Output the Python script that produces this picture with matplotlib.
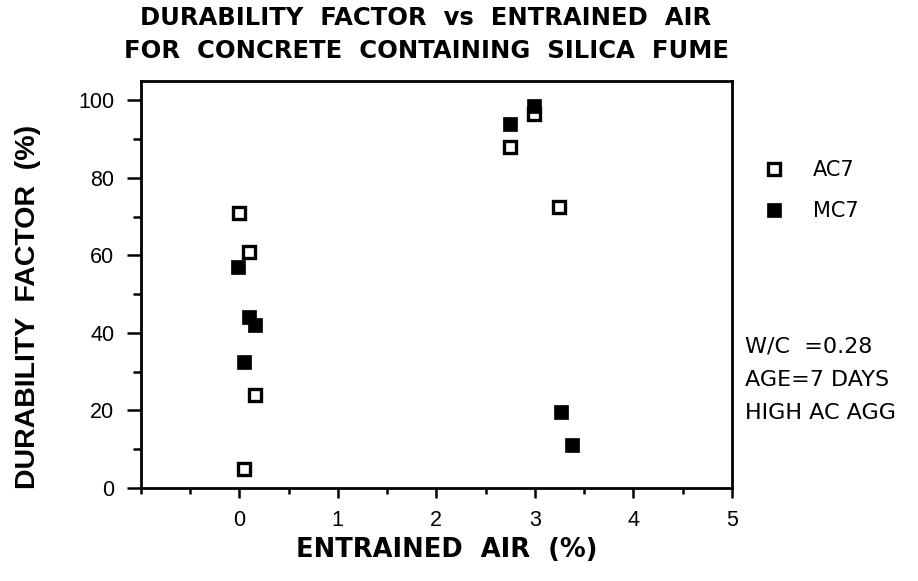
import matplotlib
matplotlib.use("Agg")
import matplotlib.pyplot as plt
from matplotlib.ticker import FixedLocator

plt.rcParams['font.family'] = ['Liberation Sans', 'DejaVu Sans']

# Data
ac7_air = [0.00, 0.10, 0.16, 0.05, 2.75, 2.99, 3.24]
ac7_df = [71, 61, 24, 5, 88, 96.5, 72.5]
mc7_air = [-0.01, 0.10, 0.16, 0.05, 2.75, 2.99, 3.26, 3.38]
mc7_df = [57, 44, 42, 32.5, 94, 98.5, 19.5, 11]

x_ticks = [0, 1, 2, 3, 4, 5]
y_ticks = [0, 20, 40, 60, 80, 100]

W, H = 918, 581
fig = plt.figure(figsize=(W / 100, H / 100), dpi=100)
ax = fig.add_axes([140.7 / W, 1 - 488 / H, (732 - 140.7) / W, (488 - 81) / H])

ax.plot(ac7_air, ac7_df, linestyle='none', marker='s', markersize=8,
        markerfacecolor='white', markeredgecolor='black', markeredgewidth=2.4,
        label='AC7', zorder=3)
ax.plot(mc7_air, mc7_df, linestyle='none', marker='s', markersize=9.8,
        markerfacecolor='black', markeredgecolor='black', markeredgewidth=0.5,
        label='MC7', zorder=4)

ax.set_xlim(-1, 5)
ax.set_ylim(0, 105)
ax.xaxis.set_major_locator(FixedLocator(x_ticks))
ax.xaxis.set_minor_locator(FixedLocator([-1, -0.5, 0.5, 1.5, 2.5, 3.5, 4.5]))
ax.yaxis.set_major_locator(FixedLocator(y_ticks))
ax.yaxis.set_minor_locator(FixedLocator([10, 30, 50, 70, 90]))
ax.set_xticklabels([str(v) for v in x_ticks])
ax.set_yticklabels([str(v) for v in y_ticks])

for s in ax.spines.values():
    s.set_linewidth(2.0)
ax.tick_params(axis='both', which='both', direction='out', width=1.8, labelsize=15.5)
ax.tick_params(axis='x', which='major', length=7, pad=9)
ax.tick_params(axis='x', which='minor', length=4.5)
ax.tick_params(axis='y', which='major', length=10, pad=9)
ax.tick_params(axis='y', which='minor', length=6)

fig.text(447 / W, 1 - 550 / H, 'ENTRAINED  AIR  (%)', ha='center', va='center',
         fontsize=18.5, fontweight='bold', family='DejaVu Sans')
fig.text(28 / W, 1 - 307 / H, 'DURABILITY  FACTOR  (%)', ha='center', va='center',
         rotation=90, fontsize=20.5, fontweight='bold')

fig.text(426 / W, 1 - 18 / H, 'DURABILITY  FACTOR  vs  ENTRAINED  AIR', ha='center',
         va='center', fontsize=17.5, fontweight='bold', family='DejaVu Sans')
fig.text(426 / W, 1 - 51 / H, 'FOR  CONCRETE  CONTAINING  SILICA  FUME', ha='center',
         va='center', fontsize=17.5, fontweight='bold', family='DejaVu Sans')

ax.legend(loc='upper left', bbox_to_anchor=(761 / W, 1 - 160 / H),
          bbox_transform=fig.transFigure, frameon=False,
          prop={'family': 'DejaVu Sans', 'size': 15},
          handletextpad=1.3, labelspacing=1.0, handlelength=1.2,
          borderaxespad=0, borderpad=0)

for txt, yy in [('W/C  =0.28', 347), ('AGE=7 DAYS', 380), ('HIGH AC AGG', 413)]:
    fig.text(745 / W, 1 - yy / H, txt, ha='left', va='center', fontsize=16,
             family='DejaVu Sans')

fig.savefig('out.png', dpi=100)
